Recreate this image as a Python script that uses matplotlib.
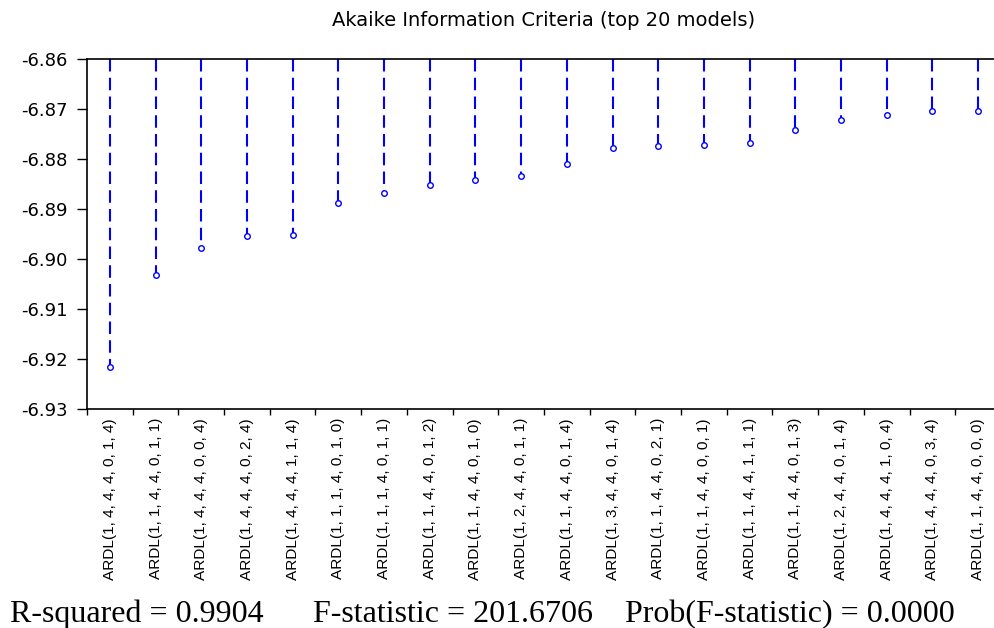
import matplotlib
matplotlib.use("Agg")
import matplotlib.pyplot as plt
import numpy as np

models = [
    "ARDL(1, 4, 4, 4, 0, 1, 4)", "ARDL(1, 1, 4, 4, 0, 1, 1)",
    "ARDL(1, 4, 4, 4, 0, 0, 4)", "ARDL(1, 4, 4, 4, 0, 2, 4)",
    "ARDL(1, 4, 4, 4, 1, 1, 4)", "ARDL(1, 1, 1, 4, 0, 1, 0)",
    "ARDL(1, 1, 1, 4, 0, 1, 1)", "ARDL(1, 1, 4, 4, 0, 1, 2)",
    "ARDL(1, 1, 4, 4, 0, 1, 0)", "ARDL(1, 2, 4, 4, 0, 1, 1)",
    "ARDL(1, 1, 4, 4, 0, 1, 4)", "ARDL(1, 3, 4, 4, 0, 1, 4)",
    "ARDL(1, 1, 4, 4, 0, 2, 1)", "ARDL(1, 1, 4, 4, 0, 0, 1)",
    "ARDL(1, 1, 4, 4, 1, 1, 1)", "ARDL(1, 1, 4, 4, 0, 1, 3)",
    "ARDL(1, 2, 4, 4, 0, 1, 4)", "ARDL(1, 4, 4, 4, 1, 0, 4)",
    "ARDL(1, 4, 4, 4, 0, 3, 4)", "ARDL(1, 1, 4, 4, 0, 0, 0)",
]
aic = [-6.9216, -6.9033, -6.8979, -6.8954, -6.8953, -6.8887, -6.8869,
       -6.8852, -6.8841, -6.8835, -6.8810, -6.8778, -6.8774, -6.8773,
       -6.8769, -6.8741, -6.8723, -6.8711, -6.8705, -6.8703]
yticks = [-6.86, -6.87, -6.88, -6.89, -6.90, -6.91, -6.92, -6.93]
stats_text = ["R-squared = 0.9904", "F-statistic = 201.6706",
              "Prob(F-statistic) = 0.0000"]

BLUE = "#0000ff"
ytop = -6.86

fig = plt.figure(figsize=(9.95, 6.28), dpi=100)
ax = fig.add_axes([87/995, 1-409/628, 914/995, 350/628])

x = np.arange(1, len(aic) + 1)
for xi, v in zip(x, aic):
    ax.plot([xi, xi], [ytop, v], color=BLUE, lw=1.5, ls=(0, (6, 3)))
ax.plot(x, aic, ls="none", marker="o", ms=4, mfc="white", mec=BLUE, mew=1.0)

ax.set_xlim(0.5, len(aic) + 0.5)
ax.set_ylim(-6.93, -6.86)
ax.set_yticks(yticks)
ax.set_yticklabels([f"{t:.2f}" for t in yticks], fontsize=13,
                   family="DejaVu Sans")

# category ticks sit on the boundaries, labels at the centres
ax.set_xticks(np.arange(0.5, len(aic) + 1, 1.0))
ax.set_xticklabels([])
ax.set_xticks(x, minor=True)
ax.set_xticklabels(models, minor=True, rotation=90, fontsize=11.1)
for lab in ax.get_xticklabels(minor=True):
    lab.set_fontfamily("Liberation Sans")
ax.tick_params(axis="x", which="minor", length=0, pad=6.5)
ax.tick_params(axis="x", which="major", direction="out", length=4.5, width=1)
ax.tick_params(axis="y", direction="out", length=7.2, width=1, pad=6.5)

ax.spines["right"].set_visible(False)
for s in ("left", "top", "bottom"):
    ax.spines[s].set_linewidth(1.2)

fig.text(544/995, 1-20/628, "Akaike Information Criteria (top 20 models)",
         ha="center", va="center", fontsize=14, family="DejaVu Sans")

for txt, xpos in zip(stats_text, [10, 313, 625]):
    fig.text(xpos/995, 1-622/628, txt, ha="left", va="baseline", fontsize=23,
             family="Liberation Serif")

fig.savefig("out.png", dpi=100)
